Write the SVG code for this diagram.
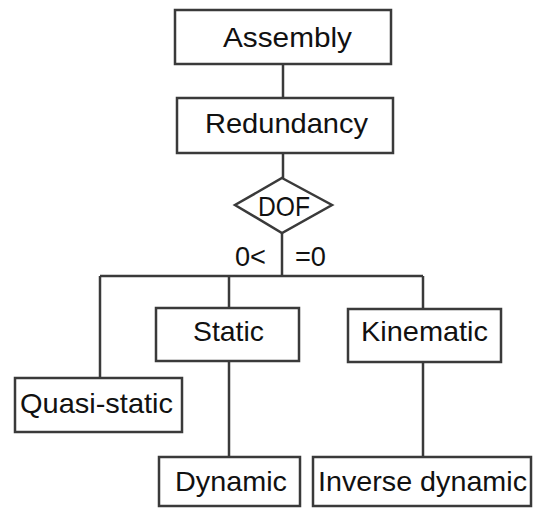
<svg xmlns="http://www.w3.org/2000/svg" width="533" height="508" viewBox="0 0 533 508">
<style>
.box{fill:#fff;stroke:#3a3a3a;stroke-width:2.5}
.ln{fill:none;stroke:#3a3a3a;stroke-width:2.5}
text{font-family:"Liberation Sans",Arial,sans-serif;font-size:28px;fill:#111}
.sm{font-size:27px}
</style>
<rect width="533" height="508" fill="#fff"/>
<g id="connectors">
<path class="ln" d="M283 64V98"/>
<path class="ln" d="M283 153V178"/>
<path class="ln" d="M282 233V276"/>
<path class="ln" d="M100 276H423"/>
<path class="ln" d="M100 276V378"/>
<path class="ln" d="M229 276V308"/>
<path class="ln" d="M423 276V309"/>
<path class="ln" d="M229 361V457"/>
<path class="ln" d="M423 362V457"/>
</g>
<g id="labels">
<text x="235" y="266" textLength="31" lengthAdjust="spacingAndGlyphs">0&lt;</text>
<text x="295" y="266" textLength="31" lengthAdjust="spacingAndGlyphs">=0</text>
</g>
<g id="assembly">
<rect class="box" x="175" y="10" width="216" height="54"/>
<text x="223" y="47" textLength="129" lengthAdjust="spacingAndGlyphs">Assembly</text>
</g>
<g id="redundancy">
<rect class="box" x="177" y="98" width="216" height="55"/>
<text x="205" y="133" textLength="163" lengthAdjust="spacingAndGlyphs">Redundancy</text>
</g>
<g id="dof">
<polygon class="box" points="282,178 332,205 282,233 235,205"/>
<text x="258" y="216" textLength="52" lengthAdjust="spacingAndGlyphs">DOF</text>
</g>
<g id="static">
<rect class="box" x="156" y="308" width="143" height="53"/>
<text x="193" y="341" textLength="71" lengthAdjust="spacingAndGlyphs">Static</text>
</g>
<g id="kinematic">
<rect class="box" x="348" y="309" width="153" height="53"/>
<text x="361" y="341" textLength="127" lengthAdjust="spacingAndGlyphs">Kinematic</text>
</g>
<g id="quasi-static">
<rect class="box" x="15" y="378" width="167" height="54"/>
<text x="20" y="413" textLength="153" lengthAdjust="spacingAndGlyphs">Quasi-static</text>
</g>
<g id="dynamic">
<rect class="box" x="159" y="457" width="141" height="49"/>
<text x="175" y="491" textLength="112" lengthAdjust="spacingAndGlyphs">Dynamic</text>
</g>
<g id="inverse-dynamic">
<rect class="box" x="313" y="457" width="218" height="49"/>
<text x="318" y="491" textLength="209" lengthAdjust="spacingAndGlyphs">Inverse dynamic</text>
</g>
</svg>
